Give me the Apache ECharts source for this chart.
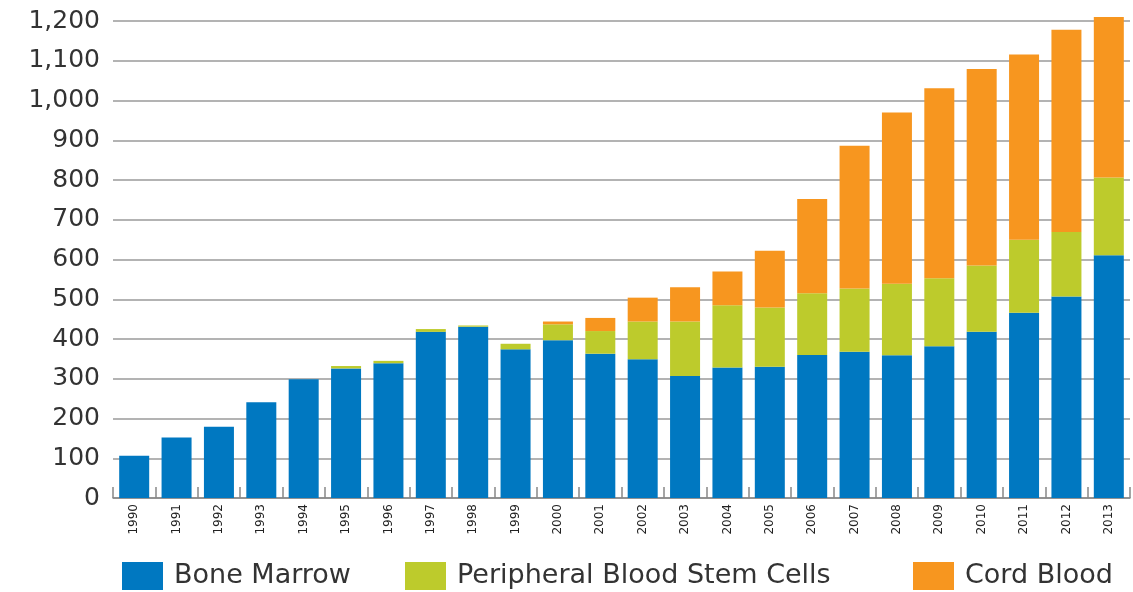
<!DOCTYPE html>
<html>
<head>
<meta charset="utf-8">
<script src="https://cdn.jsdelivr.net/npm/echarts@6/dist/echarts.min.js"></script>
<style>
html,body{margin:0;padding:0;background:#fff;}
#chart{width:1133px;height:592px;}
</style>
</head>
<body>
<div id="chart"></div>
<script>
const years = ['1990','1991','1992','1993','1994','1995','1996','1997','1998','1999','2000','2001','2002','2003','2004','2005','2006','2007','2008','2009','2010','2011','2012','2013'];
const boneMarrow = [106,152,179,241,299,326,339,418,431,374,397,363,349,307,328,330,360,368,359,382,418,466,507,611];
const pbsc = [0,0,0,0,0,6,6,7,3,14,40,57,95,137,157,149,155,159,180,171,167,184,162,195];
const cordBlood = [0,0,0,0,0,0,0,0,0,0,7,33,60,86,85,143,237,359,431,478,494,466,509,404];
const seriesNames = ['Bone Marrow','Peripheral Blood Stem Cells','Cord Blood'];
const colors = ['#0078C1','#BDCB2C','#F7961F'];

const chart = echarts.init(document.getElementById('chart'));
const font = 'DejaVu Sans';
function legend(name, left){
  return {
    data:[name], left:left, top:562, orient:'horizontal', padding:0,
    itemWidth:41, itemHeight:28, itemGap:12, icon:'rect',
    textStyle:{fontFamily:font, fontSize:27, color:'#333', padding:[0,0,0,6]},
    selectedMode:false
  };
}
chart.setOption({
  animation:false,
  color:colors,
  grid:{left:113, right:3, top:21, bottom:94, containLabel:false},
  legend:[legend(seriesNames[0],122), legend(seriesNames[1],405), legend(seriesNames[2],913)],
  xAxis:{
    type:'category', data:years, boundaryGap:true,
    axisLine:{show:true, lineStyle:{color:'#888', width:1.5}},
    axisTick:{show:true, inside:true, length:11, alignWithLabel:false, lineStyle:{color:'#888', width:1.5}},
    axisLabel:{rotate:90, fontFamily:font, fontSize:12, color:'#222', margin:6, interval:0}
  },
  yAxis:{
    type:'value', min:0, max:1200, interval:100,
    axisLine:{show:false}, axisTick:{show:false},
    splitLine:{lineStyle:{color:'#9a9a9a', width:1.5}},
    axisLabel:{fontFamily:font, fontSize:25, color:'#333', margin:13,
      formatter:function(v){return v.toLocaleString('en-US');}}
  },
  series:[
    {name:seriesNames[0], type:'bar', stack:'t', data:boneMarrow, barWidth:30, clip:false},
    {name:seriesNames[1], type:'bar', stack:'t', data:pbsc, barWidth:30, clip:false},
    {name:seriesNames[2], type:'bar', stack:'t', data:cordBlood, barWidth:30, clip:false}
  ]
});
</script>
</body>
</html>
